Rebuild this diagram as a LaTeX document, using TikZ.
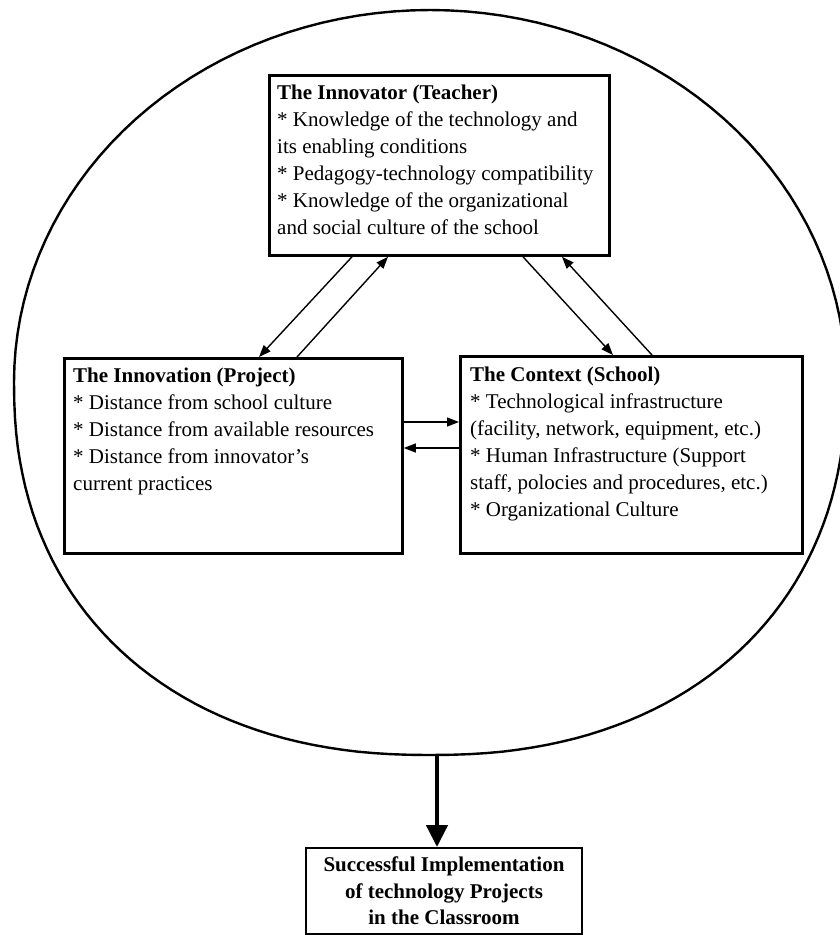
\documentclass[tikz,border=0pt]{standalone}
\usepackage{fontspec}
\setmainfont{Liberation Serif}
\usetikzlibrary{arrows.meta}
\begin{document}
\begin{tikzpicture}[x=1pt,y=-1pt,
  box/.style={draw, line width=2.8pt, rectangle, inner sep=0pt, anchor=north west},
  txt/.style={anchor=north west, inner sep=0pt, align=left, font=\fontsize{21}{27}\selectfont},
  arr/.style={line width=1.4pt, -{Triangle[length=12pt,width=9pt]}},
  bigarr/.style={line width=4.5pt, -{Triangle[length=22pt,width=21pt]}},
  rim/.style={line width=2.4pt}]
\useasboundingbox (0,0) rectangle (840,935);
% outer round frame: elliptic upper half, slightly fuller lower half
\draw[rim] plot[domain=180:360, samples=73] ({430+416*cos(\x)},{382+372*sin(\x)})
  -- plot[domain=0.2:89.8, samples=46] ({430+416*pow(cos(\x),0.9)},{382+373*pow(sin(\x),0.9)})
  -- plot[domain=90.2:179.8, samples=46] ({430-416*pow(-cos(\x),0.9)},{382+373*pow(sin(\x),0.9)})
  -- cycle;
\node[box, minimum width=340pt, minimum height=180pt] (innovator) at (268,74) {};
\node[box, minimum width=338pt, minimum height=195pt] (innovation) at (63,357) {};
\node[box, minimum width=342pt, minimum height=197pt] (context) at (459,355) {};
\node[draw, line width=2pt, rectangle, inner sep=0pt, anchor=north, minimum width=276pt, minimum height=86pt] (result) at (444,847) {};
\node[txt] (t1) at ([shift={(9pt,-11pt)}]innovator.north west) {\textbf{The Innovator (Teacher)}\\
* Knowledge of the technology and\\
its enabling conditions\\
* Pedagogy-technology compatibility\\
* Knowledge of the organizational\\
and social culture of the school};
\node[txt] (t2) at ([shift={(10pt,-11pt)}]innovation.north west) {\textbf{The Innovation (Project)}\\
* Distance from school culture\\
* Distance from available resources\\
* Distance from innovator’s\\
current practices};
\node[txt] (t3) at ([shift={(11pt,-12pt)}]context.north west) {\textbf{The Context (School)}\\
* Technological infrastructure\\
(facility, network, equipment, etc.)\\
* Human Infrastructure (Support\\
staff, polocies and procedures, etc.)\\
* Organizational Culture};
\node[txt, anchor=north, align=center, font=\fontsize{21}{26.5}\selectfont\bfseries] (t4) at ([shift={(0pt,-10pt)}]result.north) {Successful Implementation\\
of technology Projects\\
in the Classroom};
\draw[arr] ([xshift=84pt]innovator.south west) -- ([xshift=196pt]innovation.north west);
\draw[arr] ([xshift=234pt]innovation.north west) -- ([xshift=120pt]innovator.south west);
\draw[arr] ([xshift=255pt]innovator.south west) -- ([xshift=154pt]context.north west);
\draw[arr] ([xshift=193pt]context.north west) -- ([xshift=294pt]innovator.south west);
\draw[arr] ([yshift=-65pt]innovation.north east) -- ([yshift=-67pt]context.north west);
\draw[arr] ([yshift=-93pt]context.north west) -- ([yshift=-91pt]innovation.north east);
\coordinate (a0) at (437,755);
\draw[bigarr] (a0) -- (a0 |- result.north);
\end{tikzpicture}
\end{document}
